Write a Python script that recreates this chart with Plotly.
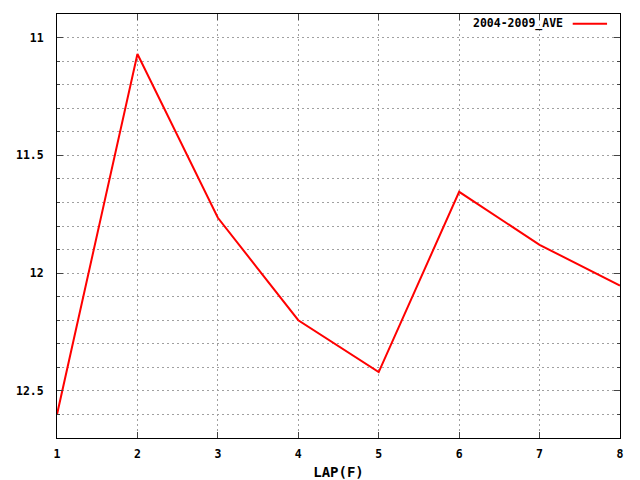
import plotly.graph_objects as go

laps = [1, 2, 3, 4, 5, 6, 7, 8]
ave_2004_2009 = [12.60, 11.07, 11.765, 12.20, 12.42, 11.655, 11.88, 12.053]
series_name = "2004-2009_AVE"

font_fam = "DejaVu Sans Mono"
fig = go.Figure()
fig.add_trace(go.Scatter(x=laps, y=ave_2004_2009, mode="lines", name=series_name,
                         line=dict(color="#ff0000", width=2), showlegend=False))

dash = "2px,3px"
grid = dict(showgrid=True, gridcolor="#a0a0a0", griddash=dash, gridwidth=1)
fig.update_layout(
    width=640, height=480,
    margin=dict(l=57, r=20, t=14, b=42, autoexpand=False),
    paper_bgcolor="white", plot_bgcolor="white",
    font=dict(family=font_fam, size=11.5, color="black", weight="bold"),
    xaxis=dict(range=[1, 8], dtick=1, tick0=1, ticks="inside", ticklen=6,
               showline=True, linecolor="black", linewidth=1, mirror="ticks",
               zeroline=False, automargin=False, ticklabelstandoff=5,
               title=dict(text="LAP(F)", standoff=12), **grid),
    yaxis=dict(range=[12.7, 10.9], dtick=0.5, tick0=11, ticks="inside", ticklen=6,
               showline=True, linecolor="black", linewidth=1, mirror="ticks",
               zeroline=False, automargin=False, ticklabelstandoff=10,
               minor=dict(dtick=0.1, tick0=11, ticks="inside", ticklen=3,
                          showgrid=True, gridcolor="#a0a0a0", griddash=dash),
               **grid),
)
fig.add_annotation(xref="paper", yref="paper", x=0.903, y=0.977, xanchor="right",
                   yanchor="middle", text=series_name, showarrow=False,
                   font=dict(family=font_fam, size=11.5, weight="bold"))
fig.add_shape(type="line", xref="paper", yref="paper", x0=0.916, x1=0.977,
              y0=0.977, y1=0.977, line=dict(color="#ff0000", width=2))
fig.write_html("out.html", config={"displayModeBar": False},
               post_script="document.body.style.margin='0';document.body.style.overflow='hidden';")
